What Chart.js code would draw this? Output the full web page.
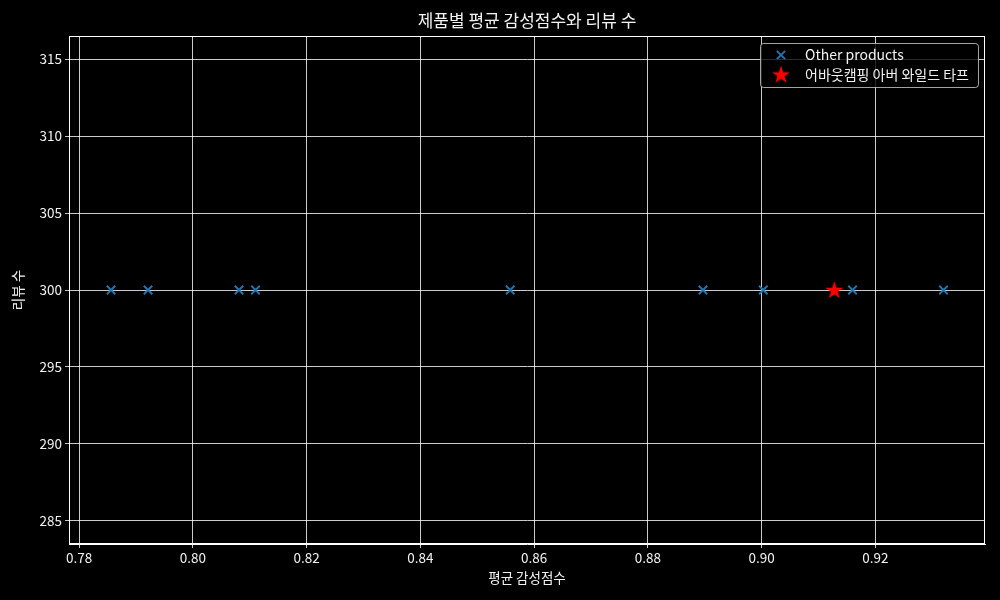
<!DOCTYPE html>
<html>
<head>
<meta charset="utf-8">
<script src="https://cdn.jsdelivr.net/npm/chart.js@4.4.1/dist/chart.umd.min.js"></script>
<style>
html,body{margin:0;padding:0;background:#000;}
#wrap{width:1000px;height:600px;position:relative;}
</style>
</head>
<body>
<div id="wrap"><canvas id="c" width="1000" height="600"></canvas></div>
<script>
const titleText = '제품별 평균 감성점수와 리뷰 수';
const xLabel = '평균 감성점수';
const yLabel = '리뷰 수';
const otherLabel = 'Other products';
const targetLabel = '어바웃캠핑 아버 와일드 타프';
const otherScores = [0.7856, 0.7921, 0.8081, 0.8110, 0.8558, 0.8897, 0.9003, 0.9160, 0.9320];
const otherReviews = [300, 300, 300, 300, 300, 300, 300, 300, 300];
const targetScores = [0.9128];
const targetReviews = [300];
const xTicks = [0.78, 0.80, 0.82, 0.84, 0.86, 0.88, 0.90, 0.92];
const yTicks = [285, 290, 295, 300, 305, 310, 315];

const FONT = "'Noto Sans CJK KR', 'Noto Sans', sans-serif";
const TXT = '#f2f2f2';

function makeStar(size, color){
  const c = document.createElement('canvas');
  c.width = size; c.height = size;
  const g = c.getContext('2d');
  const cx = size/2, cy = size/2 + 0.6, R = size/2 - 0.5, r = R*0.381;
  g.beginPath();
  for(let i=0;i<10;i++){
    const rad = (i%2===0)?R:r;
    const a = -Math.PI/2 + i*Math.PI/5;
    const px = cx + rad*Math.cos(a), py = cy + rad*Math.sin(a);
    if(i===0) g.moveTo(px,py); else g.lineTo(px,py);
  }
  g.closePath();
  g.fillStyle = color; g.fill();
  return c;
}
const starImg = makeStar(20, '#ff0000');

const toPts = (xs, ys) => xs.map((x,i)=>({x:x, y:ys[i]}));

const framePlugin = {
  id:'frame',
  afterDatasetsDraw(chart){
    const a = chart.chartArea, ctx = chart.ctx;
    ctx.save();ctx.strokeStyle='#ffffff';ctx.lineWidth=1;
    ctx.strokeRect(Math.round(a.left)+0.5, Math.round(a.top)+0.5, Math.round(a.right-a.left)-1, Math.round(a.bottom-a.top)-1);
    ctx.restore();
  }
};

const legendPlugin = {
  id:'mplLegend',
  afterDraw(chart){
    const ctx = chart.ctx;
    const x0=760.5, y0=43.5, w=218, h=44, rr=3;
    ctx.save();
    ctx.beginPath();
    ctx.moveTo(x0+rr,y0);ctx.lineTo(x0+w-rr,y0);ctx.arcTo(x0+w,y0,x0+w,y0+rr,rr);
    ctx.lineTo(x0+w,y0+h-rr);ctx.arcTo(x0+w,y0+h,x0+w-rr,y0+h,rr);
    ctx.lineTo(x0+rr,y0+h);ctx.arcTo(x0,y0+h,x0,y0+h-rr,rr);
    ctx.lineTo(x0,y0+rr);ctx.arcTo(x0,y0,x0+rr,y0,rr);ctx.closePath();
    ctx.fillStyle='rgba(0,0,0,0.8)';ctx.fill();
    ctx.strokeStyle='rgba(204,204,204,0.8)';ctx.lineWidth=1;ctx.stroke();
    ctx.strokeStyle='#1f77b4';ctx.lineWidth=1.8;
    const cx=781, cy=55, d=4.2;
    ctx.beginPath();ctx.moveTo(cx-d,cy-d);ctx.lineTo(cx+d,cy+d);ctx.moveTo(cx-d,cy+d);ctx.lineTo(cx+d,cy-d);ctx.stroke();
    ctx.drawImage(starImg, 781-10, 74.5-10);
    ctx.fillStyle=TXT;ctx.font='14px '+FONT;ctx.textBaseline='middle';ctx.textAlign='left';
    ctx.fillText(chart.data.datasets[1].label, 805, 55);
    ctx.fillText(chart.data.datasets[0].label, 805, 74.5);
    ctx.restore();
  }
};

const bgPlugin = {
  id:'bg',
  beforeDraw(chart){
    const ctx=chart.ctx;ctx.save();ctx.fillStyle='#000';ctx.fillRect(0,0,chart.width,chart.height);ctx.restore();
  }
};

new Chart(document.getElementById('c'), {
  type:'scatter',
  data:{
    datasets:[
      {label:targetLabel, data:toPts(targetScores,targetReviews), pointStyle:starImg, order:0,
       backgroundColor:'#ff0000', borderColor:'#ff0000'},
      {label:otherLabel, data:toPts(otherScores,otherReviews), pointStyle:'crossRot', pointRadius:6,
       pointBorderWidth:1.8, borderColor:'#1f77b4', backgroundColor:'#1f77b4', order:1}
    ]
  },
  options:{
    responsive:false,
    animation:false,
    events:[],
    layout:{padding:{left:0,right:15,top:0,bottom:0}},
    plugins:{
      legend:{display:false},
      tooltip:{enabled:false},
      title:{display:true,fullSize:false,text:titleText,color:TXT,font:{family:FONT,size:17,weight:'normal'},padding:{top:10,bottom:5.6}}
    },
    scales:{
      x:{
        type:'linear', min:0.7782, max:0.9393,
        afterBuildTicks(s){ s.ticks = xTicks.map(v=>({value:v})); },
        afterFit(s){ s.height = 56; },
        ticks:{color:TXT, font:{family:FONT,size:13.5}, padding:2, callback:v=>v.toFixed(2), maxRotation:0, autoSkip:false},
        grid:{color:'#ffffff', lineWidth:0.8, drawTicks:true, tickLength:4, tickColor:'#ffffff'},
        border:{display:true,color:'#ffffff',width:1},
        title:{display:true,text:xLabel,color:TXT,font:{family:FONT,size:13.5},padding:{top:2,bottom:14}}
      },
      y:{
        type:'linear', min:283.5, max:316.5,
        afterBuildTicks(s){ s.ticks = yTicks.map(v=>({value:v})); },
        afterFit(s){ s.width = 69; },
        ticks:{color:TXT, font:{family:FONT,size:13.5}, padding:3, autoSkip:false},
        grid:{color:'#ffffff', lineWidth:0.8, drawTicks:true, tickLength:4, tickColor:'#ffffff'},
        border:{display:true,color:'#ffffff',width:1},
        title:{display:true,text:yLabel,color:TXT,font:{family:FONT,size:13.5},padding:{top:10,bottom:2}}
      }
    }
  },
  plugins:[bgPlugin, framePlugin, legendPlugin]
});
</script>
</body>
</html>
